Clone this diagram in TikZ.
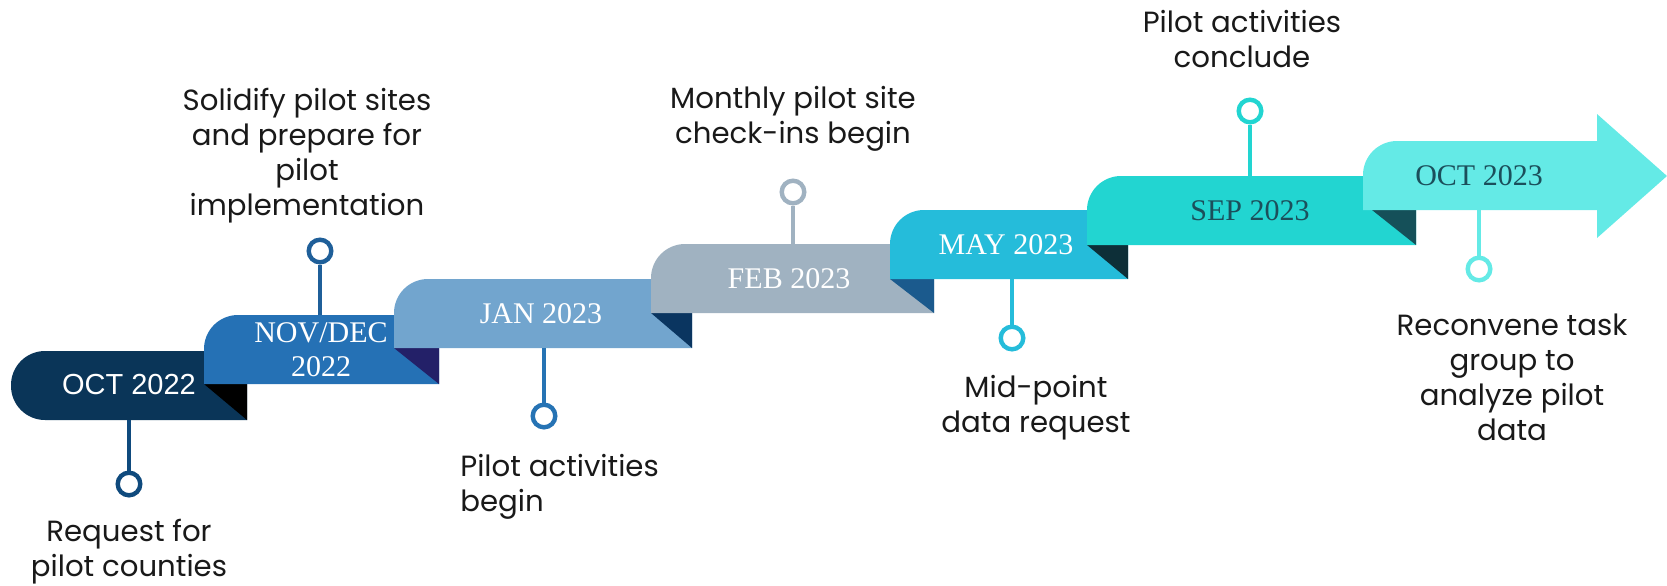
\documentclass[tikz,border=0pt]{standalone}
\usepackage{fontspec}
\setmainfont{Liberation Serif}
\newfontfamily\notefont{Poppins}
\newfontfamily\arialfont{Liberation Sans}

\definecolor{octA}{HTML}{0A3558}
\definecolor{novA}{HTML}{2571B5}
\definecolor{janA}{HTML}{72A5CE}
\definecolor{febA}{HTML}{A0B2C1}
\definecolor{mayA}{HTML}{25BCDA}
\definecolor{sepA}{HTML}{22D5D1}
\definecolor{octB}{HTML}{64EAE6}
\definecolor{foldB}{HTML}{232068}
\definecolor{foldC}{HTML}{0A3560}
\definecolor{foldD}{HTML}{1B5A8D}
\definecolor{foldE}{HTML}{0D2F38}
\definecolor{foldF}{HTML}{155059}
\definecolor{pinA}{HTML}{0F4A7D}
\definecolor{pinB}{HTML}{1F5F99}
\definecolor{pinC}{HTML}{2673B4}
\definecolor{tealtext}{HTML}{1B4F5B}

\begin{document}
\begin{tikzpicture}[x=0.5pt,y=-0.5pt,
  month/.style={font=\fontsize{15}{17}\selectfont, text=white, align=center},
  note/.style={font=\notefont\fontsize{14.6}{17.5}\selectfont, align=center, text=black!90, inner sep=1pt},
  stem/.style={line width=2pt},
  pin/.style={circle, draw=#1, fill=white, line width=2.2pt, minimum size=11.3pt, inner sep=0pt}]
\useasboundingbox (0,0) rectangle (1667,585);

% bands, bottom left to top right
\fill[octA] (247,351) [rounded corners=17pt] -- (11,351) -- (11,420) [sharp corners] -- (247,420) -- cycle;
\fill[black] (204,384) -- (247,384) -- (247,420) -- cycle;
\fill[novA] (439,384) -- (204,384) [rounded corners=17pt] -- (204,315) [sharp corners] -- (439,315) -- cycle;
\fill[foldB] (394,348) -- (439,348) -- (439,384) -- cycle;
\fill[janA] (692,348) -- (394,348) [rounded corners=17pt] -- (394,279) [sharp corners] -- (692,279) -- cycle;
\fill[foldC] (651,313) -- (692,313) -- (692,348) -- cycle;
\fill[febA] (934,313) -- (651,313) [rounded corners=17pt] -- (651,244) [sharp corners] -- (934,244) -- cycle;
\fill[foldD] (890,279) -- (934,279) -- (934,313) -- cycle;
\fill[mayA] (1128,279) -- (890,279) [rounded corners=17pt] -- (890,210) [sharp corners] -- (1128,210) -- cycle;
\fill[foldE] (1087,245) -- (1128,245) -- (1128,279) -- cycle;
\fill[sepA] (1416,245) -- (1087,245) [rounded corners=17pt] -- (1087,176) [sharp corners] -- (1416,176) -- cycle;
\fill[foldF] (1372,210) -- (1416,210) -- (1416,245) -- cycle;
\fill[octB] (1597,210) -- (1363,210) [rounded corners=17pt] -- (1363,141) [sharp corners] -- (1597,141) -- (1597,114) -- (1667,176) -- (1597,238) -- cycle;

% month labels
\node[month, font=\arialfont\fontsize{14.5}{17}\selectfont] (oct22) at (129,385) {OCT 2022};
\node[month] (novdec) at (321,350) {NOV/DEC\\2022};
\node[month] (jan) at (541,314) {JAN 2023};
\node[month] (feb) at (789,279) {FEB 2023};
\node[month] (may) at (1006,245) {MAY 2023};
\node[month, text=tealtext] (sep) at (1250,211) {SEP 2023};
\node[month, text=tealtext] (oct23) at (1479,176) {OCT 2023};

% stems and pins
\coordinate (e1) at (129,420);
\coordinate (e2) at (320,315);
\coordinate (e3) at (544,348);
\coordinate (e4) at (793,244);
\coordinate (e5) at (1012,279);
\coordinate (e6) at (1250,176);
\coordinate (e7) at (1479,210);
\node[pin=pinA] (d1) at (129,484) {};
\node[pin=pinB] (d2) at (320,251) {};
\node[pin=pinC] (d3) at (544,416) {};
\node[pin=febA] (d4) at (793,192) {};
\node[pin=mayA] (d5) at (1012,338) {};
\node[pin=sepA] (d6) at (1250,111) {};
\node[pin=octB] (d7) at (1479,269) {};
\draw[stem, pinA] (e1) -- (d1);
\draw[stem, pinB] (e2) -- (d2);
\draw[stem, pinC] (e3) -- (d3);
\draw[stem, febA] (e4) -- (d4);
\draw[stem, mayA] (e5) -- (d5);
\draw[stem, sepA] (e6) -- (d6);
\draw[stem, octB] (e7) -- (d7);

% milestone texts
\node[note] (request) at (129,552) {Request for\\pilot counties};
\node[note] (solidify) at (307,156) {Solidify pilot sites\\and prepare for\\pilot\\implementation};
\node[note, align=left, anchor=west] (begin) at (458,487) {Pilot activities\\begin};
\node[note] (monthly) at (793,119) {Monthly pilot site\\check-ins begin};
\node[note] (midpoint) at (1036,408) {Mid-point\\data request};
\node[note] (conclude) at (1242,39) {Pilot activities\\conclude};
\node[note] (reconvene) at (1512,377) {Reconvene task\\group to\\analyze pilot\\data};
\end{tikzpicture}
\end{document}
